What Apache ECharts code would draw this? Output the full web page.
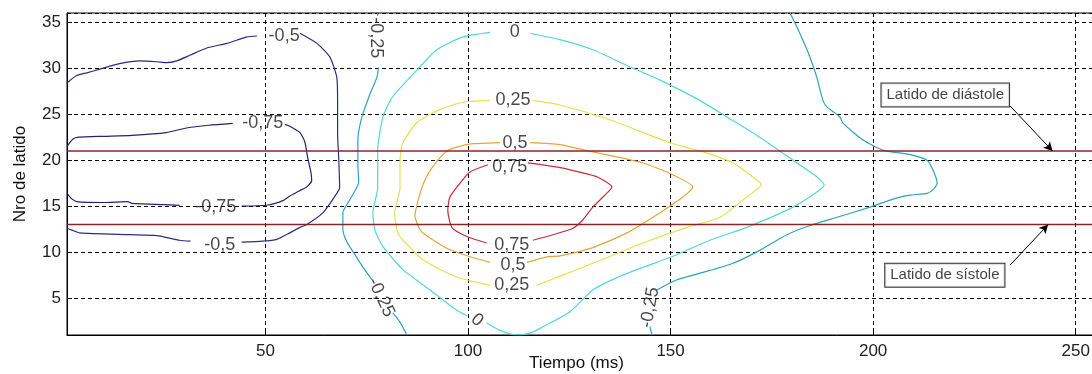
<!DOCTYPE html>
<html>
<head>
<meta charset="utf-8">
<script src="https://cdn.jsdelivr.net/npm/echarts@6/dist/echarts.min.js"></script>
<style>
html, body { margin: 0; padding: 0; background: #fff; }
#chart1 { width: 1092px; height: 374px; }
</style>
</head>
<body>
<div id="chart1"></div>
<script>
// niveles de contorno (texto como en la figura original)
var levelNames = ['-0,75', '-0,5', '-0,25', '0', '0,25', '0,5', '0,75']
var levelColors = ['#23236f', '#2c2c84', '#2ba3bd', '#52d6d6', '#e2e24e', '#e5a537', '#c92a3a']

// cada nivel: tramos [tiempo (ms), nro de latido]
var contourM075 = [
    [[1, 21.5], [2.5, 22.3], [3.9, 22.5], [10, 22.6], [17, 22.7], [25.5, 23.0], [30.5, 23.5], [36, 23.8], [41.9, 24.0]],
    [[54.8, 23.9], [56, 23.7], [58.5, 23.0], [59.7, 22.0], [60.4, 20.3], [61.2, 18.7], [61.4, 17.8], [60.2, 17.1], [58.5, 16.7], [56, 16.1], [54.3, 15.6], [50.3, 15.1], [44.1, 15.0]],
    [[28.8, 15.1], [17, 15.3], [16, 15.5], [10, 15.4], [3.4, 15.5], [2.2, 15.8], [1, 16.4]]
]
var contourM05 = [
    [[1, 28.4], [3.4, 29.2], [5.9, 29.5], [9.1, 29.9], [14, 30.5], [19, 30.8], [23.2, 30.7], [25.6, 30.6], [28.1, 30.8], [31.3, 31.4], [35.5, 32.2], [40.5, 32.7], [45.4, 33.4], [47.9, 33.5]],
    [[58.5, 33.8], [62.7, 32.7], [65.9, 31.2], [67.6, 29.0], [67.8, 26.0], [67.8, 22.9], [68.1, 20.0], [68.3, 17.0], [67.6, 16.4], [64.2, 14.3], [60.2, 13.0], [58.5, 12.7], [56, 12.1], [52.8, 11.4], [49.3, 11.2], [44.1, 11.1]],
    [[31.5, 11.2], [28.8, 11.3], [23.2, 11.8], [16.5, 11.9], [4.15, 12.1], [2.2, 12.4], [1, 12.6]]
]
var contourM025 = [
    [[77.7, 36], [77.7, 35.7]],
    [[77.9, 30.1], [77.5, 29.0], [75.8, 27.2], [73.8, 24.7], [72.8, 22.2], [72.8, 19.5], [73.0, 17.6], [70.8, 15.7], [69.1, 14.3], [69.1, 12.5], [70.1, 11.1], [72, 9.8], [74, 8.4], [76.3, 7.0]],
    [[81.4, 3.4], [83.2, 2.4], [84.9, 1.0]],
    [[179.5, 36], [181.9, 33.8], [184.4, 31.2], [186.1, 29.0], [187.6, 26.5], [188.6, 25.8], [191.8, 24.7], [192.6, 24.0], [197.5, 22.2], [202.4, 21.1], [209.1, 20.6], [213.3, 20.0], [214.8, 18.9], [215.8, 17.5], [214.8, 16.8], [213.3, 16.4], [209.1, 16.2], [205.9, 15.9], [199.2, 14.9], [191.1, 13.8], [184.4, 12.9], [178.7, 11.9], [172, 10.2], [165.4, 8.8], [158, 7.8], [151.6, 7.0], [146.6, 5.9]],
    [[144.9, 1.9], [145.4, 1.0]]
]
var contour0 = [
    [[115.3, 33.8], [122.7, 33.1], [130.8, 32.0], [139.2, 30.3], [147.4, 28.7], [157.2, 26.5], [163.9, 24.7], [172, 22.5], [180.2, 20.0], [186.1, 18.2], [187.9, 17.3], [186.9, 16.8], [180.2, 14.9], [168.8, 12.7], [159.7, 11.3], [150.3, 9.5], [139.2, 7.7], [130.8, 5.9], [125.1, 3.5], [118.5, 1.9], [115.3, 1.2], [112, 1.0], [107.9, 1.5], [104.6, 2.3]],
    [[99.7, 3.1], [97.2, 3.7], [90.6, 5.9], [83.9, 8.1], [79, 10.6], [77, 12.4], [76.5, 14.3], [77.7, 17.0], [77.7, 21.1], [79, 24.7], [81.4, 26.9], [87.4, 29.8], [92.3, 32.0], [98.7, 33.4], [105.4, 33.9]]
]
var contour025 = [
    [[105.4, 26.5], [98.7, 26.3], [93, 25.5], [87.4, 24.1], [83.9, 21.9], [83.2, 20.0], [83.2, 17.0], [81.9, 14.3], [82.4, 12.5], [83.2, 11.7], [88.8, 9.2], [97.2, 7.3], [105.4, 6.4]],
    [[117, 6.4], [122.7, 7.4], [130.8, 8.8], [143.2, 11.0], [154, 12.7], [162.2, 13.8], [168.8, 16.0], [172.3, 17.3], [172, 17.6], [165.4, 19.7], [158, 20.9], [149.8, 21.9], [135, 24.4], [122.7, 26.0], [116, 26.5]]
]
var contour05 = [
    [[107.9, 21.9], [99.7, 21.7], [94.8, 21.0], [91.3, 19.3], [89, 17.5], [87.6, 15.5], [86.9, 14.0], [88.4, 12.3], [94, 10.6], [100.5, 9.5], [105.4, 8.9]],
    [[114.5, 8.9], [119.5, 9.5], [122.7, 9.6], [130.8, 10.5], [139.2, 12.1], [147.4, 14.3], [153, 16.0], [155.5, 17.1], [150.6, 18.4], [143.2, 19.7], [130.8, 20.9], [122.7, 21.7], [115.3, 21.9]]
]
var contour075 = [
    [[104.9, 19.5], [100.4, 18.7], [98, 17.5], [95.5, 16.0], [95, 14.6], [96, 12.7], [99.7, 11.7], [104.6, 11.0]],
    [[116, 11.3], [121, 11.9], [125.9, 12.6], [128.3, 13.5], [130.8, 14.9], [133.3, 16.0], [135.5, 17.1], [131.8, 18.2], [127.6, 18.7], [122.7, 19.2], [114.8, 19.7]]
]
var contours = [contourM075, contourM05, contourM025, contour0, contour025, contour05, contour075]

// etiquetas de los contornos (clabel)
var labelTexts = ['-0,5', '-0,75', '-0,25', '-0,75', '-0,5', '0', '0,25', '0,5', '0,75', '0,75', '0,5', '0,25', '0', '-0,25', '-0,25']
var labelTimes = [54.6, 49.3, 77.2, 37.7, 38.7, 111.5, 111.1, 111.6, 110.3, 110.8, 111.1, 110.8, 102.2, 78.5, 144.9]
var labelBeats = [33.5, 24.0, 33.3, 14.9, 10.8, 33.9, 26.5, 21.9, 19.3, 10.8, 8.6, 6.4, 2.6, 5.1, 4.0]
var labelAngles = [0, 0, -90, 0, 0, 0, 0, 0, 0, 0, 0, 0, -40, -65, 80]

// latidos marcados
var diastoleBeat = 21
var systoleBeat = 13
var timeRange = [1, 256]
var beatRange = [1, 36]
var noteTexts = ['Latido de diástole', 'Latido de sístole']
var noteBoxes = [[217.8, 27.1], [217.7, 7.5]]
var noteArrowStart = [[233.8, 25.9], [233.8, 8.6]]
var noteArrowEnd = [[244.3, diastoleBeat], [243.2, systoleBeat]]

_initChart()

function _initChart () {
    var myChart = echarts.init(document.getElementById('chart1'))
    var font = 'Liberation Sans, Arial, sans-serif'
    var series = []

    contours.forEach(function (segs, i) {
        segs.forEach(function (seg) {
            series.push({
                type: 'line',
                data: seg,
                showSymbol: false,
                symbol: 'none',
                silent: true,
                smooth: 0.2,
                lineStyle: { color: levelColors[i], width: 1.2 },
                z: 3
            })
        })
    })

    // lineas horizontales de diastole y sistole
    ;[diastoleBeat, systoleBeat].forEach(function (b) {
        series.push({
            type: 'line',
            data: [[timeRange[0], b], [timeRange[1], b]],
            showSymbol: false,
            symbol: 'none',
            silent: true,
            lineStyle: { color: '#8a2424', width: 1.5 },
            z: 4
        })
    })

    // etiquetas de nivel
    series.push({
        type: 'scatter',
        symbolSize: 0,
        silent: true,
        z: 6,
        data: labelTexts.map(function (t, i) {
            return {
                name: t,
                value: [labelTimes[i], labelBeats[i]],
                label: { rotate: labelAngles[i] }
            }
        }),
        label: {
            show: true,
            position: 'inside',
            formatter: '{b}',
            color: '#1a1a1a',
            fontSize: 18,
            fontFamily: font
        }
    })

    // anotaciones con flecha
    series.push({
        type: 'scatter',
        symbolSize: 0,
        silent: true,
        z: 7,
        data: noteTexts.map(function (t, i) {
            return { name: t, value: noteBoxes[i] }
        }),
        label: {
            show: true,
            position: 'inside',
            formatter: '{b}',
            color: '#111',
            fontSize: 15,
            lineHeight: 17,
            fontFamily: font,
            backgroundColor: '#fff',
            borderColor: '#000',
            borderWidth: 1,
            padding: [3, 5]
        },
        markLine: {
            silent: true,
            symbol: ['none', 'arrow'],
            symbolSize: [7, 9],
            label: { show: false },
            lineStyle: { color: '#000', width: 1, type: 'solid' },
            data: noteArrowStart.map(function (p, i) {
                return [{ coord: p }, { coord: noteArrowEnd[i] }]
            })
        }
    })

    var option = {
        animation: false,
        backgroundColor: '#fff',
        grid: {
            left: 67,
            right: -8,
            top: 13,
            bottom: 39,
            show: true,
            borderColor: '#000',
            borderWidth: 1,
            containLabel: false,
            outerBoundsMode: 'none'
        },
        xAxis: {
            type: 'value',
            min: timeRange[0],
            max: timeRange[1],
            splitNumber: 5,
            name: 'Tiempo (ms)',
            nameLocation: 'middle',
            nameGap: 20,
            nameMoveOverlap: false,
            nameTextStyle: { color: '#111', fontSize: 17, fontFamily: font, verticalAlign: 'top', padding: [0, 14, 0, 0] },
            axisLine: { show: true, onZero: false, lineStyle: { color: '#000', width: 1 } },
            axisTick: { show: true, inside: true, length: 5, lineStyle: { color: '#000' } },
            axisLabel: { color: '#222', fontSize: 17, fontFamily: font, margin: 8, showMinLabel: false, showMaxLabel: false },
            splitLine: { show: true, lineStyle: { color: '#000', width: 1, type: [4, 3] } }
        },
        yAxis: {
            type: 'value',
            min: beatRange[0],
            max: beatRange[1],
            splitNumber: 7,
            name: 'Nro de latido',
            nameLocation: 'middle',
            nameGap: 38,
            nameRotate: 90,
            nameMoveOverlap: false,
            nameTextStyle: { color: '#111', fontSize: 17, fontFamily: font },
            axisLine: { show: true, onZero: false, lineStyle: { color: '#000', width: 1 } },
            axisTick: { show: true, inside: true, length: 5, lineStyle: { color: '#000' } },
            axisLabel: { color: '#222', fontSize: 17, fontFamily: font, margin: 6, showMinLabel: false, showMaxLabel: false },
            splitLine: { show: true, lineStyle: { color: '#000', width: 1, type: [4, 3] } }
        },
        series: series
    }
    myChart.setOption(option)
}
</script>
</body>
</html>
